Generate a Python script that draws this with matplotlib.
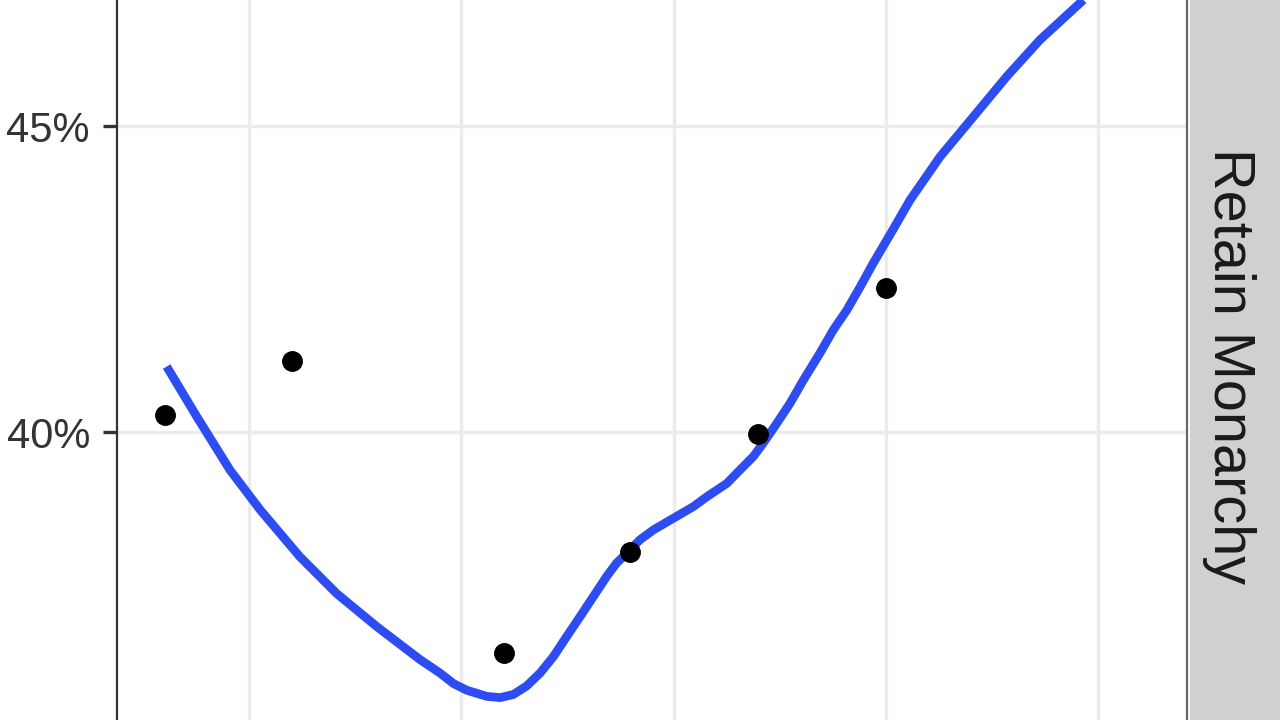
import matplotlib
matplotlib.use("Agg")
import matplotlib.pyplot as plt
from matplotlib.patches import Rectangle

# ---- data ----
facet_label = "Retain Monarchy"

poll_x = [0.604, 1.203, 2.201, 2.795, 3.398, 4.001]
poll_pct = [40.27, 41.16, 36.39, 38.04, 39.96, 42.36]

smooth_x = [0.612, 0.683, 0.754, 0.910, 1.052, 1.240, 1.413, 1.602, 1.806, 1.900,
            1.963, 2.026, 2.120, 2.183, 2.245, 2.308, 2.371, 2.434, 2.497, 2.559,
            2.622, 2.685, 2.732, 2.780, 2.842, 2.905, 2.999, 3.093, 3.156, 3.251,
            3.313, 3.376, 3.423, 3.486, 3.549, 3.612, 3.690, 3.753, 3.816, 3.879,
            3.941, 4.036, 4.114, 4.256, 4.412, 4.570, 4.727, 4.931]
smooth_pct = [41.07, 40.66, 40.25, 39.38, 38.73, 37.96, 37.36, 36.82, 36.28, 36.06,
              35.89, 35.78, 35.68, 35.66, 35.71, 35.85, 36.06, 36.33, 36.66, 36.98,
              37.31, 37.64, 37.86, 38.02, 38.24, 38.40, 38.59, 38.78, 38.94, 39.16,
              39.38, 39.60, 39.82, 40.14, 40.47, 40.85, 41.29, 41.67, 41.99, 42.37,
              42.76, 43.32, 43.79, 44.50, 45.15, 45.81, 46.41, 47.06]

x_grid = [1, 2, 3, 4, 5]
y_ticks = [35, 40, 45]
y_tick_labels = ["", "40%", "45%"]   # the 35% label lies below the visible area

# ---- figure ----
W, H = 1280, 720
fig = plt.figure(figsize=(12.8, 7.2), dpi=100)
fig.patch.set_facecolor("white")

px_left, px_right = 117, 1187
py_top, py_bottom = -20, 752
ax = fig.add_axes([px_left / W, (H - py_bottom) / H,
                   (px_right - px_left) / W, (py_bottom - py_top) / H])
ax.set_facecolor("white")
ax.set_xlim(0.378, 5.419)
ax.set_ylim(34.771, 47.386)

ax.set_xticks(x_grid)
ax.set_xticklabels([])
ax.set_yticks(y_ticks)
ax.set_yticklabels(y_tick_labels)
ax.grid(True, color="#EBEBEB", linewidth=2.4, zorder=0)
ax.set_axisbelow(True)

for side, sp in ax.spines.items():
    sp.set_color("#333333")
    sp.set_linewidth(1.6)
ax.spines["right"].set_color("#666666")

ax.tick_params(axis="y", length=10, width=2.4, color="#333333", pad=9.5,
               labelsize=30, labelcolor="#333333")
ax.tick_params(axis="x", length=10, width=2.4, color="#333333")
for lab in ax.get_yticklabels():
    lab.set_family(["Liberation Sans", "DejaVu Sans"])

ax.plot(smooth_x, smooth_pct, color="#2D4DF2", linewidth=6.3,
        solid_capstyle="butt", solid_joinstyle="round", zorder=3)
ax.plot(poll_x, poll_pct, linestyle="none", marker="o", markersize=14,
        color="black", zorder=4)

# ---- facet strip on the right ----
strip_left = 1190 / W
fig.patches.append(Rectangle((strip_left, (H - py_bottom) / H), 1.2 - strip_left,
                             (py_bottom - py_top) / H, transform=fig.transFigure,
                             facecolor="#D0D0D0", edgecolor="none", zorder=1))
fig.text(1229 / W, (H - 366) / H, facet_label, rotation=270,
         ha="center", va="center", fontsize=41.5, color="#1A1A1A",
         family=["Liberation Sans", "DejaVu Sans"])

fig.savefig("out.png", dpi=100)
